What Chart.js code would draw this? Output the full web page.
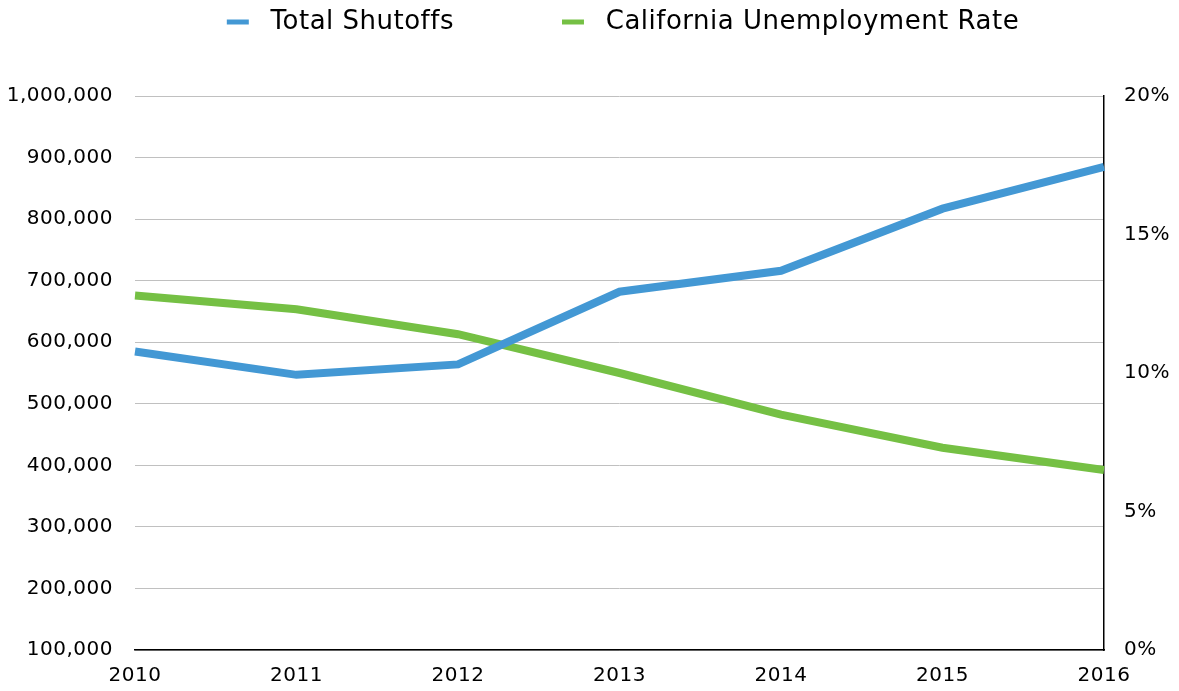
<!DOCTYPE html>
<html>
<head>
<meta charset="utf-8">
<script src="https://cdn.jsdelivr.net/npm/chart.js@4"></script>
<style>
  html, body { margin: 0; padding: 0; background: #fff; }
  #wrap { width: 1179px; height: 691px; }
</style>
</head>
<body>
<div id="wrap"><canvas id="chart"></canvas></div>
<script>
const years = ['2010', '2011', '2012', '2013', '2014', '2015', '2016'];
const shutoffs = [585000, 547000, 564000, 682000, 716000, 817000, 885000];
const unemployment = [0.128, 0.123, 0.114, 0.100, 0.085, 0.073, 0.065];
const leftTicks = [100000, 200000, 300000, 400000, 500000, 600000, 700000, 800000, 900000, 1000000];
const rightTicks = [0, 0.05, 0.10, 0.15, 0.20];

const fontFamily = '"DejaVu Sans", sans-serif';

// slightly wider lettering, closer to the original geometric face
const spacing = {
    id: 'spacing',
    beforeUpdate(chart) { chart.ctx.letterSpacing = '0.5px'; },
    beforeDraw(chart) { chart.ctx.letterSpacing = '0.5px'; }
};

// legend sits high above the plot, shifted a bit right
const legendPlace = {
    id: 'legendPlace',
    beforeInit(chart) {
        const legend = chart.legend;
        const fit = legend.fit;
        legend.fit = function () {
            fit.call(this);
            this.height = 92;
        };
        const inner = legend._draw;
        legend._draw = function () {
            const c = this.ctx;
            c.save();
            c.translate(33, -103);
            inner.apply(this, arguments);
            c.restore();
        };
    }
};

const ctx = document.getElementById('chart').getContext('2d');
const chart = new Chart(ctx, {
    type: 'line',
    data: {
        labels: years,
        datasets: [{
            label: 'Total Shutoffs',
            data: shutoffs,
            yAxisID: 'y',
            borderColor: '#4398d4',
            backgroundColor: '#4398d4',
            borderWidth: 8,
            pointRadius: 0,
            tension: 0
        }, {
            label: 'California Unemployment Rate',
            data: unemployment,
            yAxisID: 'y1',
            borderColor: '#75c044',
            backgroundColor: '#75c044',
            borderWidth: 8,
            pointRadius: 0,
            tension: 0
        }]
    },
    options: {
        responsive: true,
        maintainAspectRatio: false,
        animation: false,
        layout: { padding: { left: 8, right: 7, top: 4, bottom: 0 } },
        plugins: {
            tooltip: { enabled: false },
            legend: {
                position: 'top',
                labels: {
                    boxWidth: 22,
                    boxHeight: 5,
                    padding: 108,
                    color: '#000',
                    font: { family: fontFamily, size: 26 },
                    generateLabels: c => Chart.defaults.plugins.legend.labels.generateLabels(c).map(item => ({
                        ...item,
                        text: ' ' + item.text,
                        lineWidth: 0,
                        strokeStyle: 'rgba(0,0,0,0)'
                    }))
                }
            }
        },
        scales: {
            x: {
                offset: false,
                grid: { display: false, drawTicks: false },
                border: { display: true, color: '#000', width: 1.5 },
                afterFit: axis => { axis.height = 41; },
                ticks: {
                    color: '#000',
                    padding: 14,
                    maxRotation: 0,
                    font: { family: fontFamily, size: 20 }
                }
            },
            y: {
                position: 'left',
                min: 100000,
                max: 1000000,
                afterBuildTicks: axis => { axis.ticks = leftTicks.map(v => ({ value: v })); },
                afterFit: axis => { axis.width = 127; },
                grid: { color: '#c0c0c0', lineWidth: 1, drawTicks: false },
                border: { display: false },
                ticks: {
                    color: '#000',
                    padding: 22,
                    font: { family: fontFamily, size: 20 },
                    callback: v => v.toLocaleString('en-US')
                }
            },
            y1: {
                position: 'right',
                min: 0,
                max: 0.2,
                afterBuildTicks: axis => { axis.ticks = rightTicks.map(v => ({ value: v })); },
                afterFit: axis => { axis.width = 68; },
                grid: { display: false, drawTicks: false },
                border: { display: true, color: '#000', width: 1.5 },
                ticks: {
                    color: '#000',
                    padding: 20,
                    font: { family: fontFamily, size: 20 },
                    callback: v => Math.round(v * 100) + '%'
                }
            }
        }
    },
    plugins: [spacing, legendPlace]
});
</script>
</body>
</html>
